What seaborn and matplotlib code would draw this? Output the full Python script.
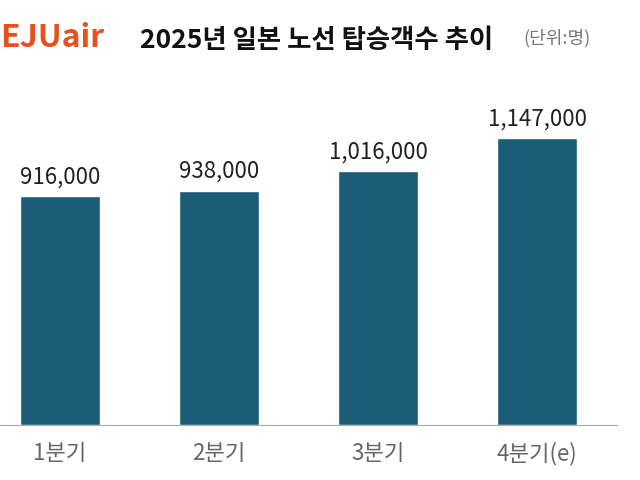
import matplotlib
matplotlib.use("Agg")
import matplotlib.pyplot as plt
import seaborn as sns
import pandas as pd

categories = ["1분기", "2분기", "3분기", "4분기(e)"]
values = [916000, 938000, 1016000, 1147000]
labels = ["916,000", "938,000", "1,016,000", "1,147,000"]

sns.set_style("white")
plt.rcParams['font.family'] = ['Noto Sans CJK KR', 'DejaVu Sans']

fig = plt.figure(figsize=(6.4, 4.8), dpi=100)
ax = fig.add_axes([-19.5/640, 55/480, 636/640, 370/480])
df = pd.DataFrame({"cat": categories, "val": values})
sns.barplot(data=df, x="cat", y="val", color="#1b5d77", saturation=1, width=0.5, ax=ax)
ax.set_ylim(0, 1480000)
ax.set_xlim(-0.5, 3.5)
for i, (v, l) in enumerate(zip(values, labels)):
    ax.text(i, v + 30000, l, ha="center", va="bottom", fontsize=16, color="#222222")
for s in ["top", "right", "left"]:
    ax.spines[s].set_visible(False)
ax.spines["bottom"].set_color("#aaaaaa")
ax.set_yticks([])
ax.set_xlabel(""); ax.set_ylabel("")
ax.tick_params(axis="x", length=0, labelsize=16, labelcolor="#666666", pad=12)

fig.text(0/640, 1 - 38/480, "EJUair", fontsize=23, fontweight="bold", fontstyle="italic",
         color="#e8501e", va="center", ha="left")
fig.text(140/640, 1 - 40/480, "2025년 일본 노선 탑승객수 추이", fontsize=19, fontweight="bold",
         color="#111111", va="center", ha="left")
fig.text(523/640, 1 - 38/480, "(단위:명)", fontsize=13, color="#777777", va="center", ha="left")
fig.savefig("out.png", dpi=100)
